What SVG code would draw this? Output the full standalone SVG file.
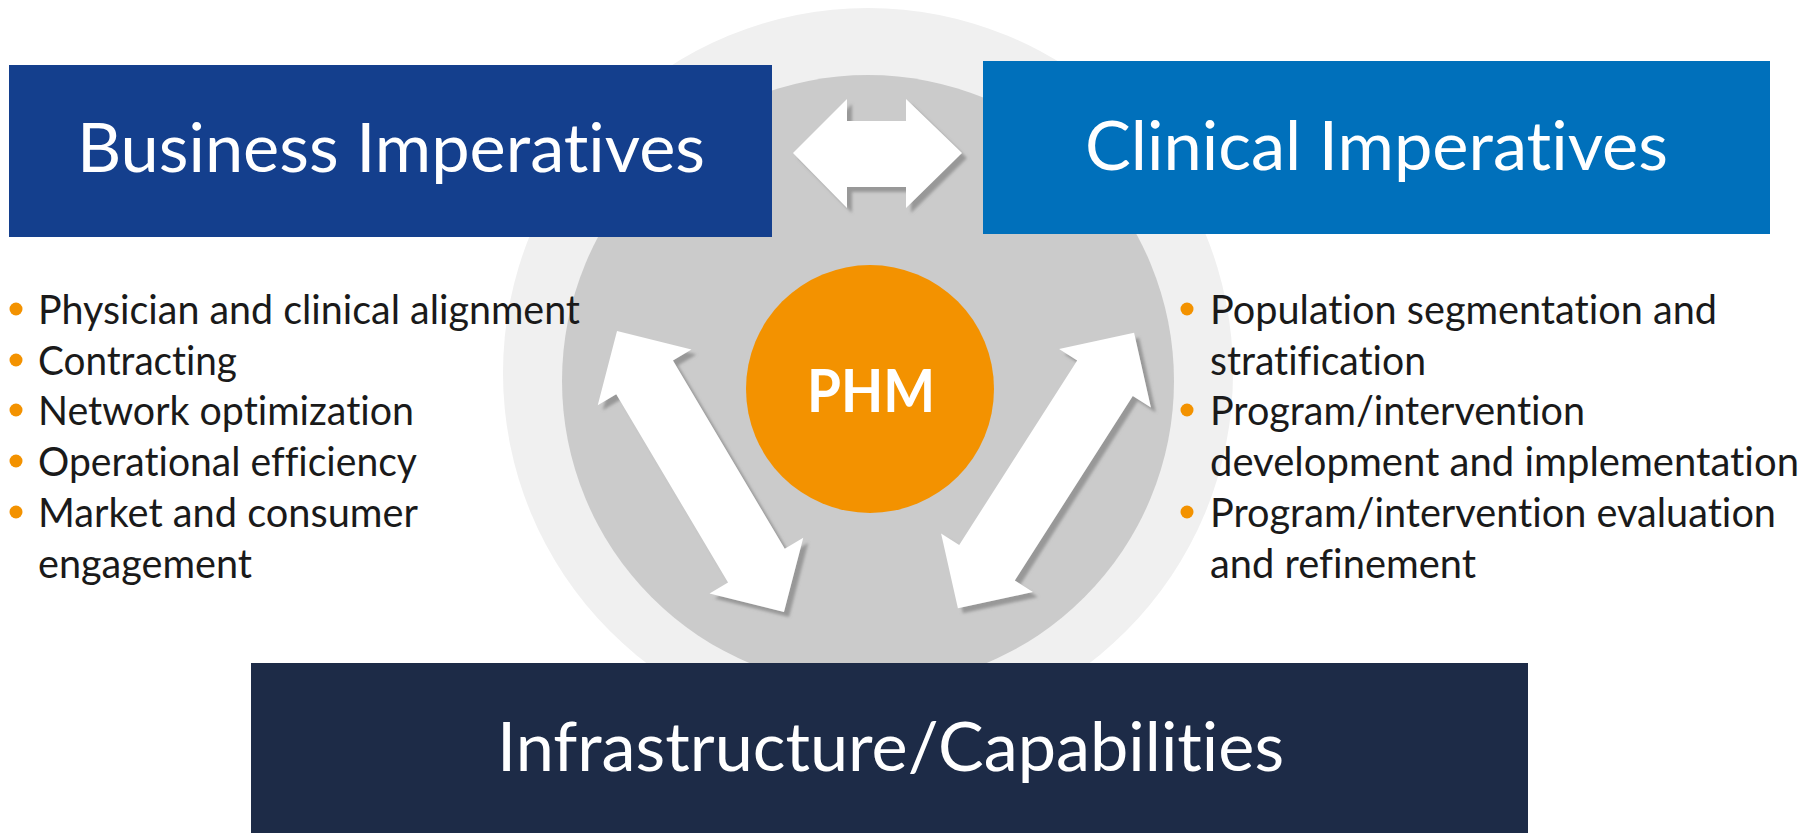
<svg xmlns="http://www.w3.org/2000/svg" width="1814" height="833" viewBox="0 0 1814 833">
<style>
text{font-variant-ligatures:none;font-feature-settings:"liga" 0,"clig" 0;}
.head{font-family:Lato,"Open Sans",sans-serif;fill:#fff;font-size:68px;}
.bul{font-family:Lato,"Open Sans",sans-serif;fill:#1a1a1a;font-size:40px;}
.dot{fill:#f39200;}
.arrow{fill:#fff;}
</style>
<defs>
<filter id="sh" x="-20%" y="-20%" width="140%" height="140%">
<feGaussianBlur in="SourceAlpha" stdDeviation="1.5" result="b"/>
<feOffset in="b" dx="5" dy="5" result="o"/>
<feFlood flood-color="#8f8f8f" flood-opacity="0.85"/>
<feComposite in2="o" operator="in" result="s"/>
<feMerge><feMergeNode in="s"/><feMergeNode in="SourceGraphic"/></feMerge>
</filter>
<path id="dbl" d="M-163.5,0 L-109.5,-54.5 L-109.5,-33 L109.5,-33 L109.5,-54.5 L163.5,0 L109.5,54.5 L109.5,33 L-109.5,33 L-109.5,54.5 Z"/>
</defs>
<rect width="1814" height="833" fill="#fff"/>
<g id="background">
<circle cx="868" cy="373" r="365" fill="#f0f0f0"/>
<circle cx="868" cy="381" r="306" fill="#cbcbcb"/>
</g>
<g id="business">
<rect x="9" y="65" width="763" height="172" fill="#143f8d"/>
<text class="head" x="77" y="172" textLength="628" lengthAdjust="spacingAndGlyphs">Business Imperatives</text>
</g>
<g id="clinical">
<rect x="983" y="61" width="787" height="173" fill="#0070bb"/>
<text class="head" x="1085" y="170" textLength="583" lengthAdjust="spacingAndGlyphs">Clinical Imperatives</text>
</g>
<g id="connectors">
<g filter="url(#sh)"><path class="arrow" d="M793,153 L847,99 L847,121 L906,121 L906,99 L962,153 L906,208 L906,187 L847,187 L847,208 Z"/></g>
<g filter="url(#sh)"><use href="#dbl" class="arrow" transform="translate(700.5,471.5) rotate(59.3)"/></g>
<g filter="url(#sh)"><use href="#dbl" class="arrow" transform="translate(1046,470.5) rotate(-57.4)"/></g>
</g>
<g id="phm">
<circle cx="870" cy="389" r="124" fill="#f39200"/>
<text x="871" y="412" text-anchor="middle" font-family="Lato,'Open Sans',sans-serif" font-weight="bold" font-size="60" fill="#fff" textLength="128" lengthAdjust="spacingAndGlyphs">PHM</text>
</g>
<g id="business-list">
<circle class="dot" cx="16" cy="309" r="6.5"/>
<circle class="dot" cx="16" cy="360" r="6.5"/>
<circle class="dot" cx="16" cy="410" r="6.5"/>
<circle class="dot" cx="16" cy="461" r="6.5"/>
<circle class="dot" cx="16" cy="512" r="6.5"/>
<text class="bul" x="38" y="324" textLength="542" lengthAdjust="spacingAndGlyphs">Physician and clinical alignment</text>
<text class="bul" x="38" y="375" textLength="199" lengthAdjust="spacingAndGlyphs">Contracting</text>
<text class="bul" x="38" y="425" textLength="376" lengthAdjust="spacingAndGlyphs">Network optimization</text>
<text class="bul" x="38" y="476" textLength="379" lengthAdjust="spacingAndGlyphs">Operational efficiency</text>
<text class="bul" x="38" y="527" textLength="380" lengthAdjust="spacingAndGlyphs">Market and consumer</text>
<text class="bul" x="38" y="578" textLength="214" lengthAdjust="spacingAndGlyphs">engagement</text>
</g>
<g id="clinical-list">
<circle class="dot" cx="1187" cy="309" r="6.5"/>
<circle class="dot" cx="1187" cy="410" r="6.5"/>
<circle class="dot" cx="1187" cy="512" r="6.5"/>
<text class="bul" x="1210" y="324" textLength="507" lengthAdjust="spacingAndGlyphs">Population segmentation and</text>
<text class="bul" x="1210" y="375" textLength="216" lengthAdjust="spacingAndGlyphs">stratification</text>
<text class="bul" x="1210" y="425" textLength="375" lengthAdjust="spacingAndGlyphs">Program/intervention</text>
<text class="bul" x="1210" y="476" textLength="589" lengthAdjust="spacingAndGlyphs">development and implementation</text>
<text class="bul" x="1210" y="527" textLength="566" lengthAdjust="spacingAndGlyphs">Program/intervention evaluation</text>
<text class="bul" x="1210" y="578" textLength="266" lengthAdjust="spacingAndGlyphs">and refinement</text>
</g>
<g id="infrastructure">
<rect x="251" y="663" width="1277" height="170" fill="#1d2b47"/>
<text class="head" x="497" y="771" textLength="787" lengthAdjust="spacingAndGlyphs">Infrastructure/Capabilities</text>
</g>
</svg>
